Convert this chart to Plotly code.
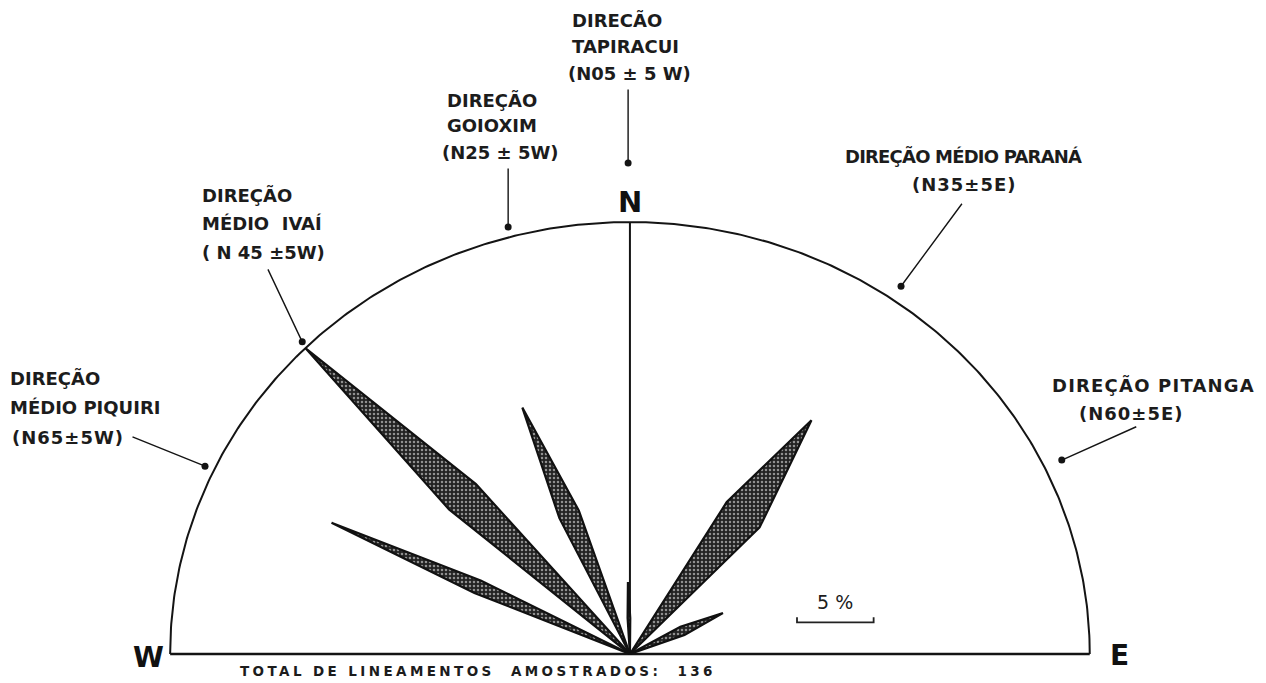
import numpy as np
import plotly.graph_objects as go

W, H = 1266, 683

# Rose petals: vertex azimuths (degrees from N, west negative) and frequencies (%)
piquiri_az = [-67.3, -64.9, -62.3]
piquiri_pct = [11.0, 21.5, 11.0]
ivai_az = [-49.6, -44.9, -40.4]
ivai_pct = [15.5, 30.0, 15.5]
goioxim_az = [-26.0, -22.3, -18.5]
goioxim_pct = [10.5, 18.5, 10.5]
tapiracui_az = [-3.5, -1.5, 0.5]
tapiracui_pct = [2.5, 5.0, 2.5]
parana_az = [30.9, 36.1, 43.9]
parana_pct = [12.3, 20.1, 12.2]
pitanga_az = [60.0, 64.9, 69.5]
pitanga_pct = [3.8, 6.7, 3.8]

petals = [
    (piquiri_az, piquiri_pct),
    (ivai_az, ivai_pct),
    (goioxim_az, goioxim_pct),
    (tapiracui_az, tapiracui_pct),
    (parana_az, parana_pct),
    (pitanga_az, pitanga_pct),
]

OUTER_PCT = 30.0      # radius of the outer semicircle (%)
SCALE_PCT = 5.0       # length of the scale bar (%)

NB = "\u00a0"
# Direction labels: text lines, left edge (px), row centres (px), letter spacing (px)
dir_lines = [
    ["DIREÇÃO", "MÉDIO PIQUIRI", "(N65±5W)"],
    ["DIREÇÃO", "MÉDIO" + NB * 2 + "IVAÍ", "(" + NB + "N 45 ±5W)"],
    ["DIREÇÃO", "GOIOXIM", "(N25 ± 5W)"],
    ["DIRECÃO", "TAPIRACUI", "(N05 ± 5 W)"],
    ["DIREÇÃO MÉDIO PARANÁ", "(N35±5E)"],
    ["DIREÇÃO PITANGA", "(N60±5E)"],
]
dir_left = [
    [8, 8, 10],
    [200, 200, 200],
    [445, 445, 440],
    [570, 570, 566],
    [843, 910],
    [1050, 1077],
]
dir_rows = [
    [378, 407, 437],
    [195, 223, 252],
    [100, 125, 152],
    [20, 47, 73],
    [156, 184],
    [385, 413],
]
dir_spacing = [
    [0, 0, 1],
    [0, 0, 0],
    [0, 0, 0],
    [0, 0, 0],
    [-0.8, 1],
    [1.2, 1],
]

# Leader lines: anchor dot (azimuth, radius %) and tail offset (px)
leader_az = [-64.8, -44.6, -15.0, -0.2, 34.7, 64.45]
leader_r = [30.64, 30.45, 30.7, 34.1, 31.07, 31.23]
leader_ax = [-74, -35, 0, 0, 62, 76]
leader_ay = [-30, -74, -60, -75, -84, -34]

total_text = "TOTAL DE LINEAMENTOS" + NB * 2 + "AMOSTRADOS:" + NB * 2 + "136"


def polar_xy(az, r):
    a = np.radians(np.asarray(az, dtype=float))
    r = np.asarray(r, dtype=float)
    return r * np.sin(a), r * np.cos(a)


fig = go.Figure()

# Outer semicircle and base line
arc_az = np.linspace(-90, 90, 361)
ax_, ay_ = polar_xy(arc_az, np.full_like(arc_az, OUTER_PCT))
fig.add_trace(go.Scatter(x=ax_, y=ay_, mode="lines",
                         line=dict(color="#141414", width=2), hoverinfo="skip"))
fig.add_trace(go.Scatter(x=[-OUTER_PCT, OUTER_PCT], y=[0, 0], mode="lines",
                         line=dict(color="#141414", width=2.5), hoverinfo="skip"))
# North line
fig.add_trace(go.Scatter(x=[0, 0], y=[0, OUTER_PCT], mode="lines",
                         line=dict(color="#141414", width=2), hoverinfo="skip"))

# Petals
for az, pct in petals:
    px_, py_ = polar_xy(az, pct)
    xs = np.concatenate([[0], px_, [0]])
    ys = np.concatenate([[0], py_, [0]])
    fig.add_trace(go.Scatter(
        x=xs, y=ys, mode="lines", fill="toself",
        line=dict(color="#111111", width=2.2),
        fillcolor="#222222",
        fillpattern=dict(shape=".", bgcolor="#222222", fgcolor="#ffffff",
                         size=4, solidity=0.32),
        hoverinfo="skip"))

# Leader dots
dx, dy = polar_xy(leader_az, leader_r)
fig.add_trace(go.Scatter(x=dx, y=dy, mode="markers",
                         marker=dict(color="#141414", size=7), hoverinfo="skip"))

# Scale bar
sb_x0, sb_y0, tick = 10.9, 2.2, 0.35
fig.add_trace(go.Scatter(
    x=[sb_x0, sb_x0, sb_x0 + SCALE_PCT, sb_x0 + SCALE_PCT],
    y=[sb_y0 + tick, sb_y0, sb_y0, sb_y0 + tick],
    mode="lines", line=dict(color="#222", width=1.8), hoverinfo="skip"))

FONT = "DejaVu Sans"
TXT = "#1c1c1c"


def spaced(txt, ls):
    if ls:
        return '<span style="letter-spacing:%.1fpx">%s</span>' % (ls, txt)
    return txt


annotations = []
for x, y, axo, ayo in zip(dx, dy, leader_ax, leader_ay):
    annotations.append(dict(x=x, y=y, xref="x", yref="y", text="", showarrow=True,
                            arrowhead=0, arrowwidth=1.4, arrowcolor="#141414",
                            ax=axo, ay=ayo, standoff=0))
for lines, lefts, rows, sps in zip(dir_lines, dir_left, dir_rows, dir_spacing):
    for txt, lx, ly, ls in zip(lines, lefts, rows, sps):
        annotations.append(dict(x=lx / W, y=1 - ly / H, xref="paper", yref="paper",
                                text="<b>" + spaced(txt, ls) + "</b>", showarrow=False,
                                xanchor="left", yanchor="middle",
                                font=dict(family=FONT, size=18, color=TXT)))

annotations += [
    dict(x=0, y=30.1, xref="x", yref="y", text="<b>N</b>", showarrow=False,
         xanchor="center", yanchor="bottom",
         font=dict(family=FONT, size=29, color="#111")),
    dict(x=148 / W, y=1 - 657 / H, xref="paper", yref="paper", text="<b>W</b>",
         showarrow=False, xanchor="center", yanchor="middle",
         font=dict(family=FONT, size=28, color="#111")),
    dict(x=1119 / W, y=1 - 655 / H, xref="paper", yref="paper", text="<b>E</b>",
         showarrow=False, xanchor="center", yanchor="middle",
         font=dict(family=FONT, size=28, color="#111")),
    dict(x=sb_x0 + SCALE_PCT / 2, y=sb_y0 + 1.4, xref="x", yref="y", text="5 %",
         showarrow=False, xanchor="center", yanchor="middle",
         font=dict(family=FONT, size=19, color=TXT)),
    dict(x=478 / W, y=1 - 671 / H, xref="paper", yref="paper",
         text="<b>" + spaced(total_text, 3.4) + "</b>",
         showarrow=False, xanchor="center", yanchor="middle",
         font=dict(family=FONT, size=13.5, color=TXT)),
]

fig.update_layout(
    width=W, height=H,
    margin=dict(l=0, r=0, t=0, b=0),
    paper_bgcolor="white", plot_bgcolor="white",
    showlegend=False,
    xaxis=dict(range=[-41.1, 41.5], visible=False, fixedrange=True),
    yaxis=dict(range=[-2.01, 45.42], visible=False, fixedrange=True),
    annotations=annotations,
)

fig.write_html("out.html")
